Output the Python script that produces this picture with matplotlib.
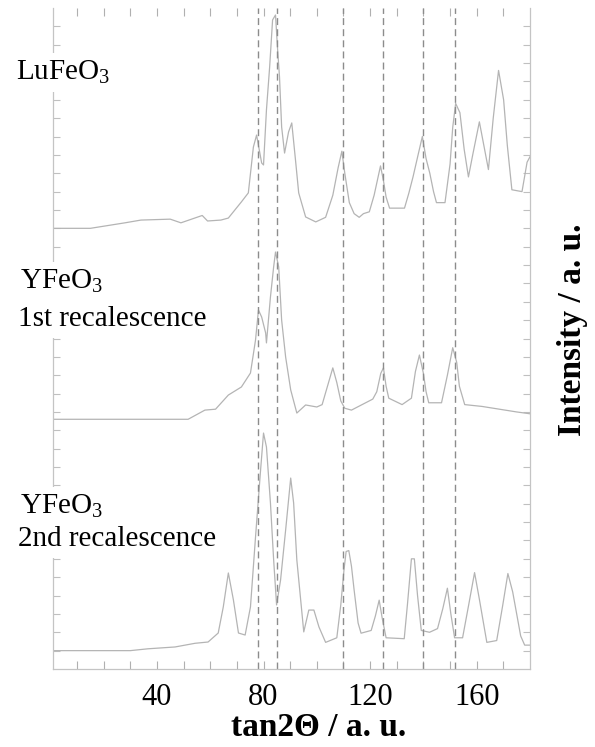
import matplotlib
matplotlib.use("Agg")
import matplotlib.pyplot as plt

plt.rcParams["font.family"] = ["Liberation Serif", "DejaVu Serif"]
plt.rcParams["mathtext.default"] = "regular"

# two-theta positions (a.u.) and intensities above each pattern's baseline
lu_x = [1, 15, 28, 34, 45, 49, 57, 59, 64, 66.8, 71.7, 74.3, 76.2, 77.4, 79.3, 80.0,
        81.1, 82.3, 83.4, 84.5, 85.3, 86.0, 86.8, 87.9, 89.4, 90.6, 92.0, 93.2, 95.8,
        99.6, 103.3, 106.0, 108.0, 109.4, 110.5, 112.2, 114.0, 115.9, 117.5, 119.7,
        121.5, 123.9, 125.0, 126.0, 127.3, 132.9, 134.5, 136.1, 138.0, 139.6, 141.0,
        142.4, 143.8, 144.9, 148.1, 150.0, 151.0, 152.1, 153.7, 155.3, 156.9, 158.5,
        161.0, 162.7, 164.4, 166.2, 168.2, 170.1, 171.5, 173.2, 177.0, 178.9, 180]
lu_y = [0.0, 0.0, 0.3, 0.45, 0.5, 0.3, 0.7, 0.4, 0.45, 0.56, 1.44, 1.93, 4.43, 5.08,
        3.56, 3.45, 6.45, 8.79, 11.35, 11.62, 9.71, 8.24, 5.52, 4.1, 5.25, 5.74, 3.72,
        1.93, 0.62, 0.35, 0.6, 1.8, 3.3, 4.2, 3.0, 1.4, 0.8, 0.6, 0.8, 0.9, 1.8, 3.4,
        2.6, 1.7, 1.1, 1.1, 1.9, 2.8, 4.0, 5.0, 3.8, 3.0, 2.0, 1.4, 1.4, 3.5, 5.5, 6.8,
        6.3, 4.3, 2.8, 4.0, 5.8, 4.5, 3.2, 6.0, 8.6, 7.0, 4.5, 2.1, 2.0, 3.6, 3.9]

y1_x = [1, 51.7, 58, 62, 66.8, 71.7, 75.1, 77.0, 78.1, 79.3, 80.8, 81.1, 82.6, 83.8,
        84.5, 85.7, 86.8, 88.3, 90.2, 92.5, 95.8, 100.0, 102.0, 104.0, 106.0, 107.5,
        109.0, 110.5, 113.0, 117.0, 121.0, 122.5, 124.0, 125.0, 126.0, 127.0, 132.0,
        135.5, 137.0, 138.5, 140.0, 141.0, 142.0, 146.8, 149.0, 151.0, 152.5, 153.5,
        155.5, 162.0, 175.0, 180]
y1_y = [0.0, 0.0, 0.5, 0.55, 1.32, 1.76, 2.52, 4.32, 5.95, 5.57, 4.7, 4.16, 6.66, 8.3,
        9.11, 8.3, 5.4, 3.39, 1.6, 0.34, 0.78, 0.67, 0.8, 1.8, 2.8, 2.0, 1.0, 0.6, 0.5,
        0.8, 1.1, 1.5, 2.5, 2.8, 1.8, 1.15, 0.8, 1.15, 2.6, 3.5, 2.5, 1.5, 0.9, 0.9, 2.4,
        3.9, 3.1, 1.8, 0.8, 0.7, 0.4, 0.3]

y2_x = [1, 30, 36.6, 46.8, 54.3, 59.2, 63.0, 64.9, 66.8, 68.7, 70.6, 73.1, 75.1, 77.0,
        78.9, 80.0, 81.1, 82.6, 83.8, 84.9, 86.4, 88.3, 90.2, 91.3, 92.5, 95.1, 97.0,
        98.9, 100.8, 103.3, 107.5, 109.0, 110.2, 111.0, 112.0, 113.0, 114.0, 115.5,
        116.6, 120.4, 122.0, 123.4, 124.5, 126.0, 132.8, 134.0, 135.5, 136.6, 137.8,
        139.2, 142.3, 145.3, 147.3, 149.0, 150.3, 151.7, 154.7, 157.0, 159.2, 161.0,
        163.8, 167.5, 169.8, 171.7, 173.5, 175.0, 176.5, 178.0, 180]
y2_y = [0.0, 0.0, 0.1, 0.2, 0.4, 0.47, 0.96, 2.38, 4.23, 2.76, 0.96, 0.85, 2.38, 6.19,
        9.84, 11.85, 11.09, 8.04, 4.94, 2.49, 3.85, 6.57, 9.4, 8.04, 4.94, 1.02, 2.21,
        2.21, 1.29, 0.45, 0.7, 2.5, 4.4, 5.4, 5.45, 4.6, 3.3, 1.5, 0.95, 1.1, 1.9, 2.75,
        1.8, 0.7, 0.65, 2.5, 5.0, 5.0, 3.0, 1.1, 1.0, 1.2, 2.3, 3.4, 2.0, 0.7, 0.7, 2.5,
        4.25, 2.8, 0.45, 0.55, 2.5, 4.2, 3.2, 2.0, 0.8, 0.3, 0.3]

baselines = [24.0, 13.6, 1.0]
ref_lines = [78, 85, 110, 125, 139.7, 152]
xtick_pos = list(range(10, 180, 10))
xtick_labels = ["40", "80", "120", "160"]

fig = plt.figure(figsize=(5.95, 7.47), dpi=100)
ax = fig.add_axes([53 / 595, 78 / 747, 477 / 595, 661 / 747])

curve_color = "#b4b4b4"
for xs, ys, b in [(lu_x, lu_y, baselines[0]), (y1_x, y1_y, baselines[1]),
                  (y2_x, y2_y, baselines[2])]:
    ax.plot(xs, [v + b for v in ys], color=curve_color, lw=0.9)

for xv in ref_lines:
    ax.axvline(xv, color="#8c8c8c", lw=1.0, ls=(0, (5, 3)))

ax.set_xlim(1, 180)
ax.set_ylim(0, 36)
ax.set_xticks(xtick_pos)
ax.set_xticklabels([str(t) if str(t) in xtick_labels else "" for t in xtick_pos],
                   fontsize=22)
ax.set_yticks(range(1, 36))
ax.set_yticklabels([])
ax.tick_params(axis="x", direction="in", length=6, width=0.8, color="#b0b0b0",
               top=True, pad=10)
ax.tick_params(axis="y", direction="in", length=5, width=0.8, color="#c0c0c0",
               right=True)
ax.spines["top"].set_visible(False)
for side in ["left", "right", "bottom"]:
    ax.spines[side].set_color("#c4c4c4")
    ax.spines[side].set_linewidth(0.9)

box = dict(facecolor="white", edgecolor="none", pad=4)
labels = [("LuFeO$_3$", 16, 80), ("YFeO$_3$", 20, 289), ("1st recalescence", 18, 326),
          ("YFeO$_3$", 20, 514), ("2nd recalescence", 18, 546)]
for txt, px, py in labels:
    fig.text(px / 595, 1 - py / 747, txt, fontsize=21, va="baseline", ha="left",
             bbox=box)

fig.text(319 / 595, 1 - 727 / 747, "tan2Θ / a. u.", fontsize=24, fontweight="bold",
         ha="center", va="center")
fig.text(572 / 595, 1 - 330 / 747, "Intensity / a. u.", fontsize=24, fontweight="bold",
         rotation=90, ha="center", va="center")

fig.savefig("out.png", dpi=100)
